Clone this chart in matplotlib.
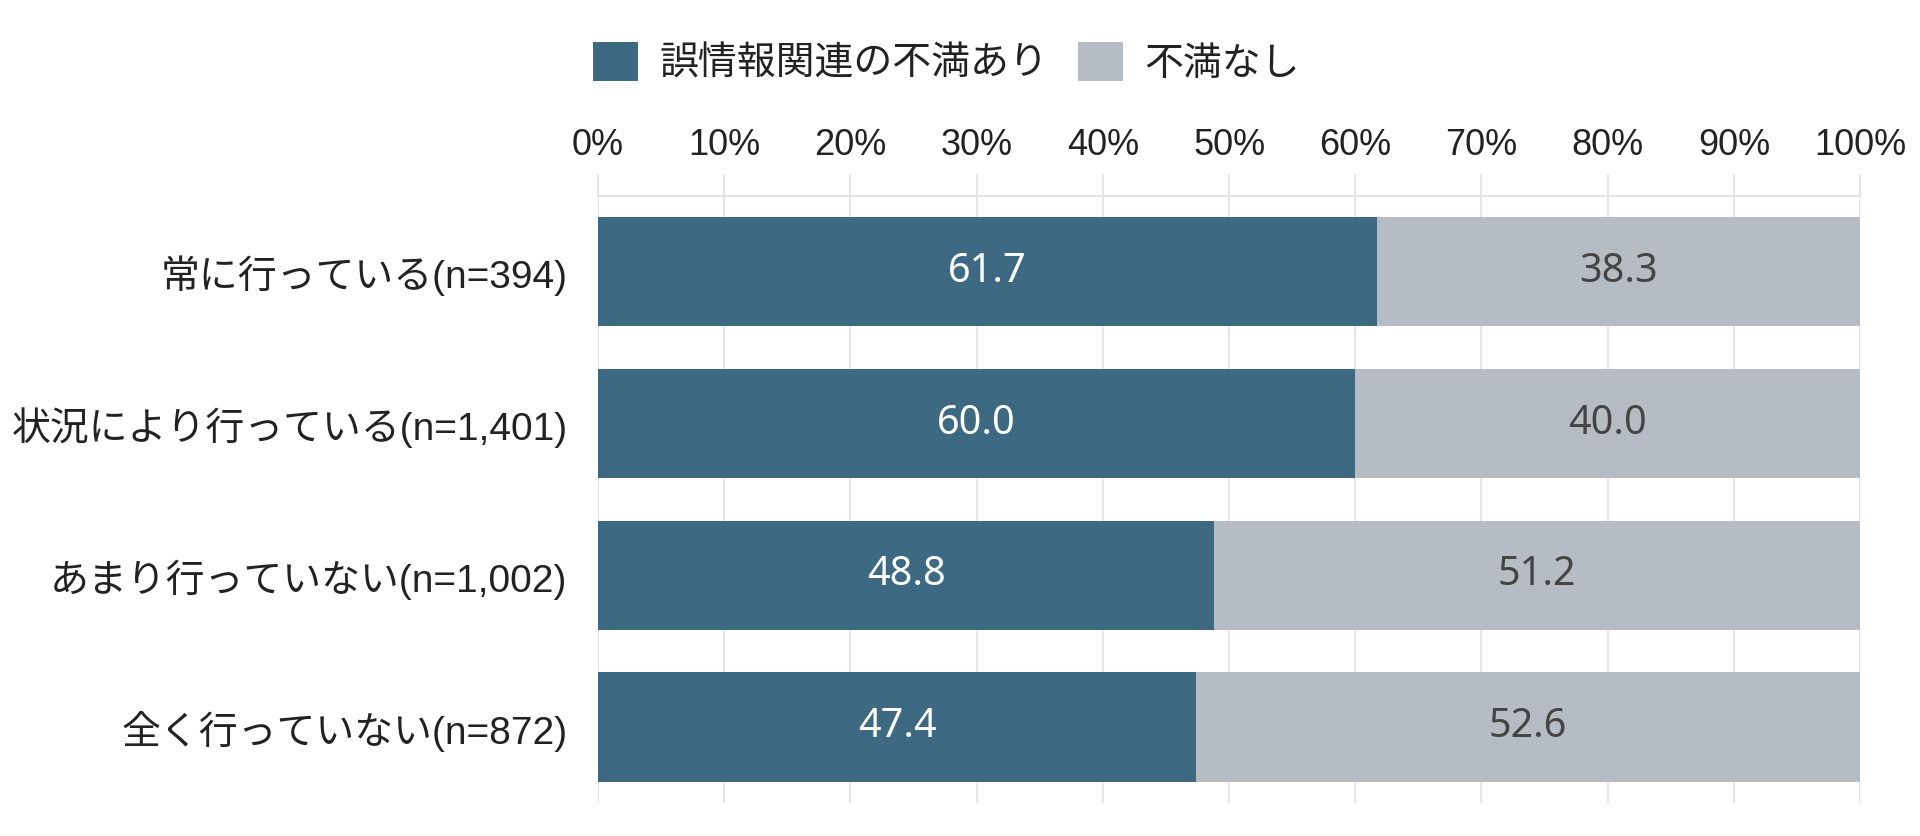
import numpy as np
import matplotlib
matplotlib.use("Agg")
import matplotlib.pyplot as plt

plt.rcParams['font.family'] = ['Liberation Sans', 'Noto Sans CJK JP', 'DejaVu Sans']

categories = ["常に行っている(n=394)", "状況により行っている(n=1,401)",
              "あまり行っていない(n=1,002)", "全く行っていない(n=872)"]
series_names = ["誤情報関連の不満あり", "不満なし"]
dissatisfied = [61.7, 60.0, 48.8, 47.4]
satisfied = [38.3, 40.0, 51.2, 52.6]
xticks = [0, 10, 20, 30, 40, 50, 60, 70, 80, 90, 100]

c_dark = "#3d6a82"
c_gray = "#b5bcc4"
c_grid = "#e3e3e3"

fig = plt.figure(figsize=(19.2, 8.36), dpi=100)
ax = fig.add_axes([0.3115, 0.0395, 0.9688 - 0.3115, 0.7656 - 0.0395])

y = np.arange(len(categories))
h = 0.72
b1 = ax.barh(y, dissatisfied, height=h, color=c_dark, label=series_names[0], zorder=2)
b2 = ax.barh(y, satisfied, left=dissatisfied, height=h, color=c_gray, label=series_names[1], zorder=2)

# value labels centred in each segment
for i in range(len(categories)):
    ax.text(dissatisfied[i] / 2, y[i], "%.1f" % dissatisfied[i], ha='center', va='center',
            color='white', fontsize=28.5, family=['Noto Sans'], zorder=3)
    ax.text(dissatisfied[i] + satisfied[i] / 2, y[i], "%.1f" % satisfied[i], ha='center', va='center',
            color='#444444', fontsize=28.5, family=['Noto Sans'], zorder=3)

ax.set_xlim(0, 100)
ax.set_ylim(len(categories) - 0.5, -0.5)
ax.set_xticks(xticks)
ax.set_xticklabels(["%d%%" % t for t in xticks])
ax.xaxis.tick_top()
ax.tick_params(axis='x', which='both', direction='out', length=16, width=1.3, color=c_grid,
               labelsize=26, pad=8, labelcolor='#222222')
ax.set_yticks(y)
ax.set_yticklabels(categories)
ax.tick_params(axis='y', length=0, labelsize=28, pad=22, labelcolor='#222222')

ax.xaxis.grid(True, color=c_grid, linewidth=1.3, zorder=0)
ax.set_axisbelow(True)
for s in ['left', 'right', 'bottom']:
    ax.spines[s].set_visible(False)
ax.spines['top'].set_color(c_grid)
ax.spines['top'].set_linewidth(1.3)

fig.legend(handles=[b1, b2], labels=series_names, loc='upper left',
           bbox_to_anchor=(0.309, 1 - 42 / 836), ncol=2, frameon=False, fontsize=28,
           handlelength=1.16, handleheight=1.17, handletextpad=0.55, columnspacing=0.75,
           borderpad=0, borderaxespad=0, labelcolor='#222222')

fig.savefig("out.png", dpi=100, facecolor='white')
